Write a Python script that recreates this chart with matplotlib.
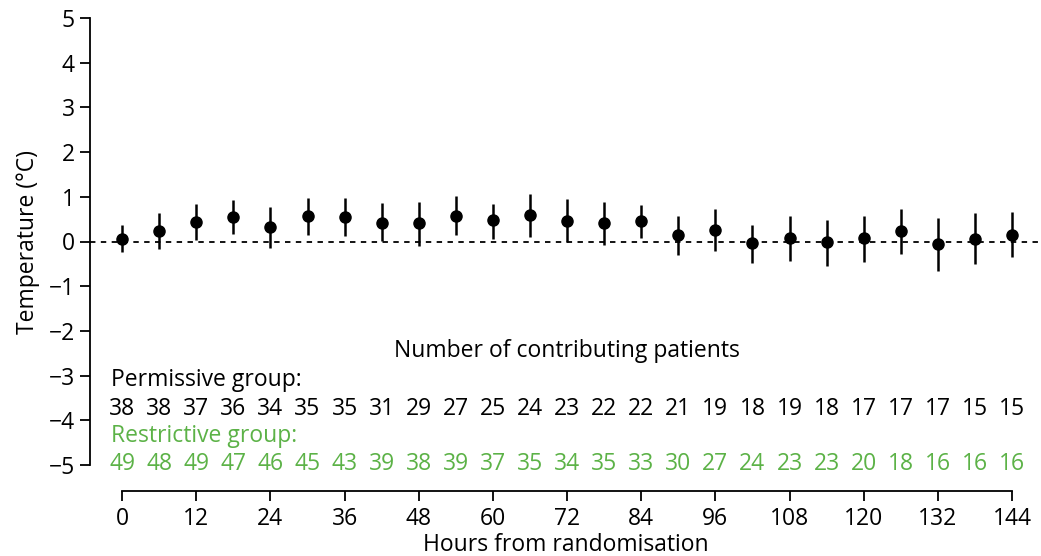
import matplotlib.pyplot as plt
import numpy as np

plt.rcParams['font.family'] = ['Open Sans', 'DejaVu Sans']

hours = [0, 6, 12, 18, 24, 30, 36, 42, 48, 54, 60, 66, 72, 78, 84, 90, 96, 102, 108, 114, 120, 126, 132, 138, 144]
mean_temp = [0.06, 0.23, 0.44, 0.55, 0.32, 0.57, 0.55, 0.42, 0.42, 0.57, 0.47, 0.59, 0.46,
             0.41, 0.46, 0.15, 0.26, -0.03, 0.07, 0.0, 0.07, 0.23, -0.06, 0.05, 0.15]
ci_upper = [0.37, 0.63, 0.85, 0.93, 0.77, 0.98, 0.97, 0.87, 0.88, 1.01, 0.84, 1.06, 0.94,
            0.89, 0.82, 0.58, 0.72, 0.38, 0.56, 0.47, 0.58, 0.73, 0.52, 0.64, 0.67]
ci_lower = [-0.24, -0.16, 0.03, 0.17, -0.15, 0.14, 0.12, 0.01, -0.09, 0.15, 0.06, 0.09, 0.0,
            -0.08, 0.07, -0.30, -0.21, -0.47, -0.44, -0.54, -0.45, -0.27, -0.65, -0.51, -0.35]
n_permissive = [38, 38, 37, 36, 34, 35, 35, 31, 29, 27, 25, 24, 23, 22, 22, 21, 19, 18, 19, 18, 17, 17, 17, 15, 15]
n_restrictive = [49, 48, 49, 47, 46, 45, 43, 39, 38, 39, 37, 35, 34, 35, 33, 30, 27, 24, 23, 23, 20, 18, 16, 16, 16]

green = '#5cb247'
fs = 16.5

fig = plt.figure(figsize=(10.41, 5.56), dpi=100)
ax = fig.add_axes([90/1041, 91/556, 951/1041, 447/556])

x = np.array(hours)
y = np.array(mean_temp)
yerr = [y - np.array(ci_lower), np.array(ci_upper) - y]

ax.axhline(0, color='black', lw=1.3, ls=(0, (3, 3)), zorder=1)
ax.errorbar(x, y, yerr=yerr, fmt='o', color='black', ms=8, elinewidth=1.8, capsize=0, zorder=3)

ax.set_xlim(-5.2, 148.7)
ax.set_ylim(-5, 5)
ax.set_yticks(range(-5, 6))
ax.set_yticklabels([str(v).replace('-', '\u2212') for v in range(-5, 6)])
ax.set_xticks(range(0, 145, 12))

for s in ['top', 'right']:
    ax.spines[s].set_visible(False)
ax.spines['bottom'].set_position(('outward', 19))
ax.spines['bottom'].set_bounds(0, 144)
ax.spines['left'].set_linewidth(1.3)
ax.spines['bottom'].set_linewidth(1.3)
ax.tick_params(axis='both', direction='out', length=7, width=1.3, labelsize=fs, pad=4)

ax.set_ylabel('Temperature (°C)', fontsize=fs, labelpad=6)
ax.set_xlabel('Hours from randomisation', fontsize=fs, labelpad=2)

ax.text(72, -2.45, 'Number of contributing patients', fontsize=fs, ha='center', va='center')
ax.text(-1.8, -3.1, 'Permissive group:', fontsize=fs, ha='left', va='center')
ax.text(-1.8, -4.35, 'Restrictive group:', fontsize=fs, ha='left', va='center', color=green)
for h, npm, nr in zip(hours, n_permissive, n_restrictive):
    ax.text(h, -3.75, str(npm), fontsize=fs, ha='center', va='center')
    ax.text(h, -4.97, str(nr), fontsize=fs, ha='center', va='center', color=green)

fig.savefig('out.png', dpi=100)
